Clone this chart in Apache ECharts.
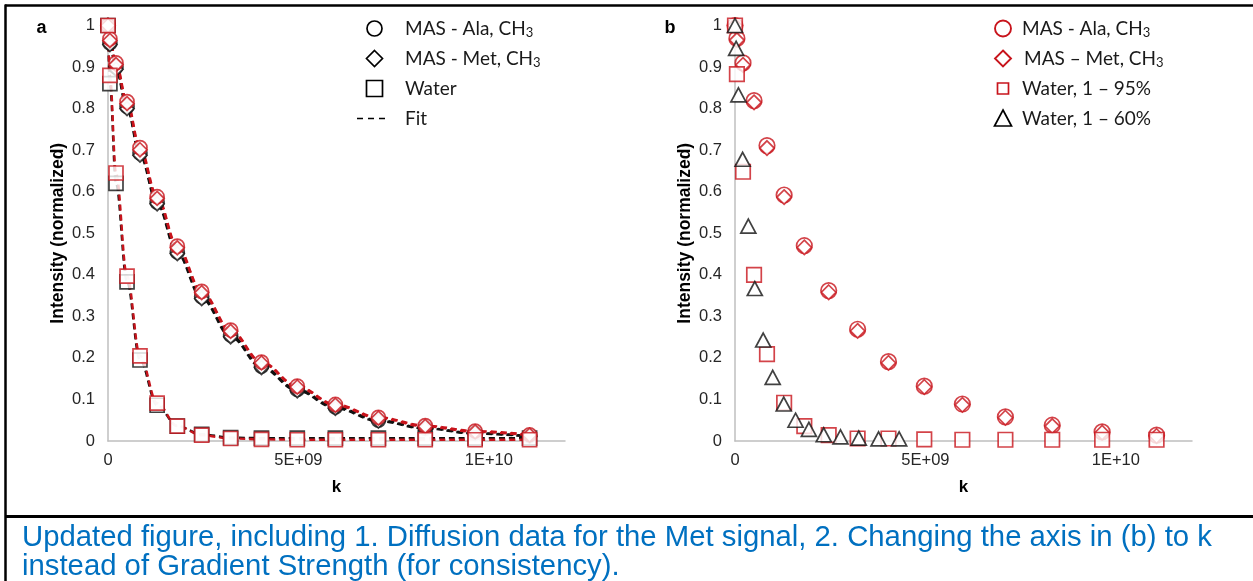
<!DOCTYPE html>
<html>
<head>
<meta charset="utf-8">
<script src="https://cdn.jsdelivr.net/npm/echarts@6/dist/echarts.min.js"></script>
<style>
html,body{margin:0;padding:0;background:#fff;}
#chart{width:1253px;height:581px;}
</style>
</head>
<body>
<div id="chart"></div>
<script>
// ---- data (k in units of 1E+09) ----
var kMain = [0, 0.05, 0.21, 0.5, 0.84, 1.29, 1.82, 2.46, 3.22, 4.03, 4.97, 5.97, 7.1, 8.33, 9.64, 11.07];
var kWater60 = [0, 0.03, 0.09, 0.2, 0.35, 0.52, 0.74, 0.99, 1.28, 1.59, 1.94, 2.33, 2.77, 3.25, 3.77, 4.31];

// panel a
var aRedAla   = [1, 0.968, 0.91, 0.817, 0.706, 0.588, 0.469, 0.36, 0.267, 0.19, 0.132, 0.088, 0.057, 0.037, 0.024, 0.015];
var aRedMet   = [1, 0.964, 0.906, 0.812, 0.701, 0.584, 0.465, 0.357, 0.264, 0.188, 0.13, 0.086, 0.055, 0.035, 0.022, 0.014];
var aBlackAla = [1, 0.958, 0.9, 0.805, 0.693, 0.575, 0.455, 0.347, 0.255, 0.18, 0.124, 0.082, 0.05, 0.031, 0.019, 0.012];
var aBlackMet = [1, 0.954, 0.895, 0.8, 0.688, 0.571, 0.451, 0.343, 0.251, 0.177, 0.121, 0.079, 0.048, 0.03, 0.018, 0.011];
var aRedWater   = [1, 0.88, 0.645, 0.397, 0.205, 0.091, 0.036, 0.014, 0.006, 0.004, 0.003, 0.003, 0.003, 0.003, 0.003, 0.003];
var aBlackWater = [1, 0.86, 0.62, 0.383, 0.195, 0.086, 0.036, 0.016, 0.008, 0.007, 0.007, 0.007, 0.007, 0.007, 0.007, 0.007];

// panel b
var bAla     = [1, 0.969, 0.91, 0.819, 0.711, 0.592, 0.47, 0.362, 0.269, 0.191, 0.132, 0.089, 0.058, 0.038, 0.022, 0.014];
var bMet     = [1, 0.965, 0.905, 0.815, 0.705, 0.587, 0.466, 0.358, 0.265, 0.188, 0.13, 0.087, 0.056, 0.036, 0.02, 0.012];
var bWater95 = [1, 0.883, 0.648, 0.4, 0.209, 0.092, 0.036, 0.014, 0.006, 0.006, 0.004, 0.003, 0.003, 0.003, 0.003, 0.003];
var bWater60 = [1, 0.945, 0.833, 0.678, 0.517, 0.367, 0.243, 0.153, 0.089, 0.05, 0.028, 0.015, 0.01, 0.007, 0.005, 0.005];

// tick labels
var xTickValues = [0, 5e9, 1e10];
var xTickLabels = ['0', '5E+09', '1E+10'];
var yTickLabels = ['0', '0.1', '0.2', '0.3', '0.4', '0.5', '0.6', '0.7', '0.8', '0.9', '1'];

// texts
var legendA = [['MAS - Ala, CH', '3'], ['MAS - Met, CH', '3'], ['Water', ''], ['Fit', '']];
var legendB = [['MAS - Ala, CH', '3'], ['MAS \u2013 Met, CH', '3'], ['Water, 1 \u2013 95%', ''], ['Water, 1 \u2013 60%', '']];
var captionLines = ['Updated figure, including 1. Diffusion data for the Met signal, 2. Changing the axis in (b) to k',
                    'instead of Gradient Strength (for consistency).'];

// ---- build ----
var RED = '#C8141C', BLACK = '#111';
function pts(k, v) { return k.map(function (x, i) { return [x * 1e9, v[i]]; }); }

function xAxis(idx) {
  return {
    gridIndex: idx, type: 'value', min: 0, max: 1.2e10, interval: 5e9,
    name: 'k', nameLocation: 'middle', nameGap: 38,
    nameTextStyle: { fontFamily: 'Liberation Sans', fontWeight: 'bold', fontSize: 17, color: '#000' },
    axisLine: { show: true, lineStyle: { color: '#BFBFBF', width: 1.5 } },
    axisTick: { show: false }, splitLine: { show: false },
    axisLabel: {
      showMaxLabel: false, margin: 11, fontFamily: 'Liberation Sans', fontSize: 16.5, color: '#262626',
      formatter: function (v) { var i = xTickValues.indexOf(v); return i >= 0 ? xTickLabels[i] : ''; }
    }
  };
}
function yAxis(idx) {
  return {
    gridIndex: idx, type: 'value', min: 0, max: 1, interval: 0.1,
    name: 'Intensity (normalized)', nameLocation: 'middle', nameGap: 41, nameRotate: 90,
    nameTextStyle: { fontFamily: 'Liberation Sans', fontWeight: 'bold', fontSize: 17.5, color: '#000' },
    axisLine: { show: true, lineStyle: { color: '#BFBFBF', width: 1.5 } },
    axisTick: { show: false }, splitLine: { show: false },
    axisLabel: {
      margin: 13, fontFamily: 'Liberation Sans', fontSize: 16.5, color: '#262626',
      formatter: function (v) { return yTickLabels[Math.round(v * 10)]; }
    }
  };
}
function fit(idx, k, v, color, z) {
  return {
    type: 'line', xAxisIndex: idx, yAxisIndex: idx, data: pts(k, v), showSymbol: false,
    smooth: 0.35, smoothMonotone: 'x', silent: true, z: z,
    lineStyle: { color: color, width: 2.4, type: [6, 4] }
  };
}
function marks(idx, k, v, symbol, size, color, z) {
  return {
    type: 'scatter', xAxisIndex: idx, yAxisIndex: idx, data: pts(k, v), symbol: symbol, symbolSize: size,
    z: z, itemStyle: { color: '#fff', borderColor: color, borderWidth: 1.7 }
  };
}

var series = [
  // panel a fits
  fit(0, kMain, aBlackAla, BLACK, 2), fit(0, kMain, aBlackMet, BLACK, 2), fit(0, kMain, aBlackWater, BLACK, 2),
  fit(0, kMain, aRedAla, RED, 3), fit(0, kMain, aRedMet, RED, 3), fit(0, kMain, aRedWater, RED, 3),
  // panel a markers
  marks(0, kMain, aBlackAla, 'circle', 14, BLACK, 4),
  marks(0, kMain, aBlackMet, 'diamond', 14, BLACK, 5),
  marks(0, kMain, aBlackWater, 'rect', 14, BLACK, 5),
  marks(0, kMain, aRedAla, 'circle', 14, RED, 6),
  marks(0, kMain, aRedMet, 'diamond', 14, RED, 7),
  marks(0, kMain, aRedWater, 'rect', 14, RED, 7),
  // panel b markers
  marks(1, kMain, bAla, 'circle', 15.5, RED, 6),
  marks(1, kMain, bMet, 'diamond', 14.5, RED, 7),
  marks(1, kMain, bWater95, 'rect', 14.5, RED, 7),
  marks(1, kWater60, bWater60, 'triangle', [15, 14], BLACK, 8)
];

// legends and decorations
var FONT_LEG = 'Lato';
var rich = { sub: { fontFamily: FONT_LEG, fontSize: 13, fill: '#1a1a1a', color: '#1a1a1a', verticalAlign: 'bottom', lineHeight: 11 } };
function legendText(x, y, item) {
  return {
    type: 'text', x: x, y: y, z: 10,
    style: {
      text: item[0] + (item[1] ? '{sub|' + item[1] + '}' : ''), rich: rich,
      fontFamily: FONT_LEG, fontSize: 19, fill: '#1a1a1a', lineHeight: 22, verticalAlign: 'middle', align: 'left'
    }
  };
}
var rowsY = [28.5, 58.5, 88.5, 118.5];
var graphics = [
  // frame
  { type: 'line', shape: { x1: 5, y1: 5.5, x2: 1253, y2: 5.5 }, style: { stroke: '#000', lineWidth: 2.5 } },
  { type: 'line', shape: { x1: 5.5, y1: 4.5, x2: 5.5, y2: 581 }, style: { stroke: '#000', lineWidth: 2.5 } },
  { type: 'line', shape: { x1: 5, y1: 516.5, x2: 1253, y2: 516.5 }, style: { stroke: '#000', lineWidth: 3 } },
  // panel letters
  { type: 'text', x: 41.5, y: 28.5, style: { text: 'a', fontFamily: 'Liberation Sans', fontWeight: 'bold', fontSize: 18, fill: '#000', align: 'center', verticalAlign: 'middle' } },
  { type: 'text', x: 670, y: 28.5, style: { text: 'b', fontFamily: 'Liberation Sans', fontWeight: 'bold', fontSize: 18, fill: '#000', align: 'center', verticalAlign: 'middle' } },
  // legend a symbols
  { type: 'circle', shape: { cx: 374.5, cy: rowsY[0], r: 7.5 }, style: { fill: '#fff', stroke: '#000', lineWidth: 1.7 } },
  { type: 'polygon', shape: { points: [[374.5, rowsY[1] - 8], [382.5, rowsY[1]], [374.5, rowsY[1] + 8], [366.5, rowsY[1]]] }, style: { fill: '#fff', stroke: '#000', lineWidth: 1.7 } },
  { type: 'rect', shape: { x: 366.5, y: rowsY[2] - 8, width: 16, height: 16 }, style: { fill: '#fff', stroke: '#000', lineWidth: 1.7 } },
  { type: 'line', shape: { x1: 357, y1: rowsY[3], x2: 388, y2: rowsY[3] }, style: { stroke: '#000', lineWidth: 1.7, lineDash: [6, 5] } },
  legendText(405, rowsY[0], legendA[0]), legendText(405, rowsY[1], legendA[1]),
  legendText(405, rowsY[2], legendA[2]), legendText(405, rowsY[3], legendA[3]),
  // legend b symbols
  { type: 'circle', shape: { cx: 1003, cy: rowsY[0], r: 8 }, style: { fill: '#fff', stroke: RED, lineWidth: 1.9 } },
  { type: 'polygon', shape: { points: [[1003, rowsY[1] - 8], [1011, rowsY[1]], [1003, rowsY[1] + 8], [995, rowsY[1]]] }, style: { fill: '#fff', stroke: RED, lineWidth: 1.9 } },
  { type: 'rect', shape: { x: 997.5, y: rowsY[2] - 5.5, width: 11, height: 11 }, style: { fill: '#fff', stroke: RED, lineWidth: 1.7 } },
  { type: 'polygon', shape: { points: [[1003, rowsY[3] - 8.5], [1011.5, rowsY[3] + 7.5], [994.5, rowsY[3] + 7.5]] }, style: { fill: '#fff', stroke: '#000', lineWidth: 1.7 } },
  legendText(1022, rowsY[0], legendB[0]), legendText(1024, rowsY[1], legendB[1]),
  legendText(1022, rowsY[2], legendB[2]), legendText(1022, rowsY[3], legendB[3]),
  // caption
  { type: 'text', x: 22, y: 538, style: { text: captionLines[0], fontFamily: 'Liberation Sans', fontSize: 29.3, fill: '#0070C0', verticalAlign: 'middle' } },
  { type: 'text', x: 22, y: 567, style: { text: captionLines[1], fontFamily: 'Liberation Sans', fontSize: 29.3, fill: '#0070C0', verticalAlign: 'middle' } }
];

var option = {
  animation: false,
  backgroundColor: '#fff',
  grid: [
    { left: 108, top: 25.5, width: 457, height: 415.5 },
    { left: 735, top: 25.5, width: 457, height: 415.5 }
  ],
  xAxis: [xAxis(0), xAxis(1)],
  yAxis: [yAxis(0), yAxis(1)],
  series: series,
  graphic: graphics
};
var chart = echarts.init(document.getElementById('chart'), null, { renderer: 'canvas' });
chart.setOption(option);
</script>
</body>
</html>
